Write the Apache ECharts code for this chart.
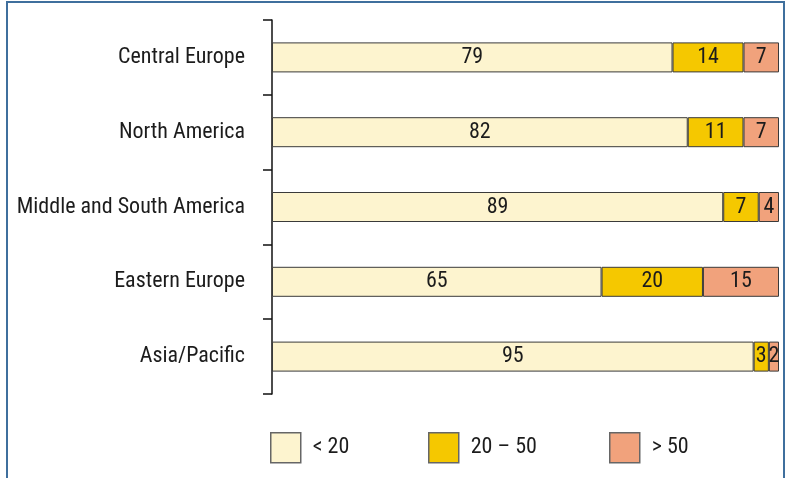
<!DOCTYPE html>
<html>
<head>
<meta charset="utf-8">
<script src="https://cdn.jsdelivr.net/npm/echarts@6/dist/echarts.min.js"></script>
<style>
  html, body { margin: 0; padding: 0; background: #fff; }
  #chart { width: 787px; height: 478px; }
</style>
</head>
<body>
<div id="chart"></div>
<script>
// Regions, top to bottom
const regions = ['Central Europe', 'North America', 'Middle and South America', 'Eastern Europe', 'Asia/Pacific'];
// Share (%) in each size class
const below20 = [79, 82, 89, 65, 95];
const from20to50 = [14, 11, 7, 20, 3];
const above50 = [7, 7, 4, 15, 2];
const classNames = ['< 20', '20 – 50', '> 50'];

const FONT = '"Liberation Sans Narrow", "Roboto Condensed", "DejaVu Sans Condensed", sans-serif';
const FS = 22;
const colors = ['#fdf4cf', '#f5c800', '#f1a27c'];
const values = [below20, from20to50, above50];

const chart = echarts.init(document.getElementById('chart'), null, { renderer: 'canvas' });

const series = values.map((arr, i) => ({
  name: classNames[i],
  type: 'bar',
  stack: 'total',
  barWidth: 30,
  data: arr,
  itemStyle: { color: colors[i], borderColor: '#3a3a3a', borderWidth: 1 },
  label: {
    show: true,
    position: 'inside',
    color: '#1c1c1c',
    fontFamily: FONT,
    fontSize: FS
  },
  emphasis: { disabled: true }
}));

const legendLefts = [265, 423, 604];
const legends = classNames.map((n, i) => ({
  data: [{ name: n, icon: 'rect' }],
  left: legendLefts[i],
  top: 427,
  orient: 'horizontal',
  itemWidth: 30,
  itemHeight: 30,
  itemGap: 0,
  selectedMode: false,
  itemStyle: { borderColor: '#666', borderWidth: 1.5 },
  textStyle: { fontFamily: FONT, fontSize: FS, color: '#1c1c1c', padding: [0, 0, 0, 7] }
}));

chart.setOption({
  animation: false,
  grid: { left: 272, right: 8, top: 20, bottom: 84, containLabel: false },
  xAxis: {
    type: 'value', min: 0, max: 100, show: false
  },
  yAxis: {
    type: 'category',
    data: regions,
    inverse: true,
    boundaryGap: true,
    axisLine: { show: true, lineStyle: { color: '#111', width: 1.5 } },
    axisTick: { show: true, inside: false, length: 9, lineStyle: { color: '#111', width: 1.5 } },
    axisLabel: { margin: 27, fontFamily: FONT, fontSize: FS, color: '#1c1c1c' },
    splitLine: { show: false }
  },
  legend: legends,
  series: series,
  graphic: [{
    type: 'rect',
    silent: true,
    shape: { x: 7, y: 2, width: 777, height: 520 },
    style: { fill: 'none', stroke: '#3f6f9d', lineWidth: 2 }
  }]
});
</script>
</body>
</html>
